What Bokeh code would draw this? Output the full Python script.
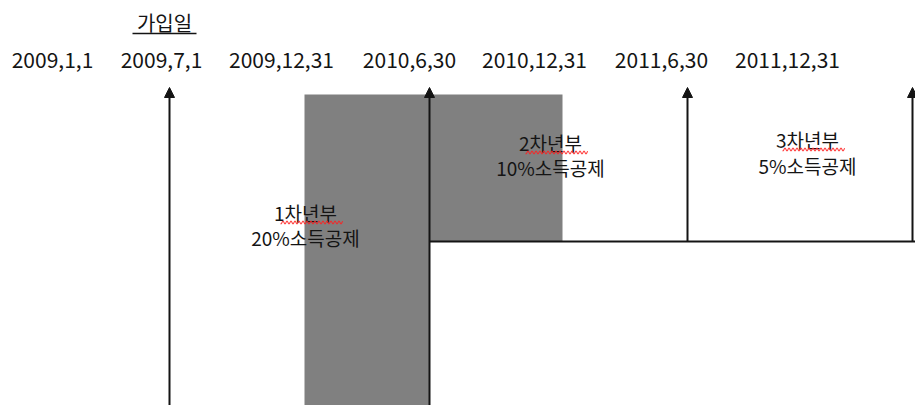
import numpy as np
from bokeh.plotting import figure
from bokeh.models import Range1d, ColumnDataSource, Arrow, NormalHead
from bokeh.core.properties import value
from bokeh.embed import file_html
from bokeh.resources import INLINE

# ---------------- data ----------------
dates = ["2009,1,1", "2009,7,1", "2009,12,31", "2010,6,30",
         "2010,12,31", "2011,6,30", "2011,12,31"]
join_label = "가입일"
join_index = 1
year_labels = ["1차년부", "2차년부", "3차년부"]
deduction_rates = [20, 10, 5]
# timeline marks (indices into half-year slots)
arrow_slots = [1, 3, 5, 6]
box_slots = [(2, 3), (3, 4)]          # shaded periods
# ---------------- layout (page pixels) ----------------
LABEL_X = [52, 161, 281, 409, 534, 661, 787]
SLOT_X = {1: 169, 2: 304, 3: 429, 4: 562, 5: 687, 6: 912}
LABEL_Y = 59
TOP_Y = 87
BOX_TOP = 94
MID_Y = 241
BOTTOM = 420
ARROW_BOTTOM = {1: BOTTOM, 3: BOTTOM, 5: MID_Y, 6: MID_Y}
BOX_BOTTOM = [BOTTOM, MID_Y]
YEAR_POS = [(305, 212, 237), (550, 142, 167), (807, 139, 165)]

W, H = 915, 405
p = figure(width=W, height=H, output_backend="svg", toolbar_location=None,
           x_range=Range1d(0, W), y_range=Range1d(H, 0),
           min_border=0, outline_line_color=None)
p.axis.visible = False
p.grid.visible = False
p.background_fill_color = "white"

FONT = value("Noto Sans CJK KR")
INK = "#141414"

# shaded boxes
bl = [SLOT_X[a] for a, b in box_slots]
br = [SLOT_X[b] for a, b in box_slots]
p.quad(left=bl, right=br, top=[BOX_TOP] * len(box_slots), bottom=BOX_BOTTOM,
       fill_color="#808080", line_color=None)

# horizontal line
p.segment(x0=[SLOT_X[3]], y0=[MID_Y], x1=[W + 5], y1=[MID_Y],
          line_color=INK, line_width=2)

# arrows
asrc = ColumnDataSource(dict(
    xs=[SLOT_X[s] for s in arrow_slots],
    ys=[ARROW_BOTTOM[s] for s in arrow_slots],
    xe=[SLOT_X[s] for s in arrow_slots],
    ye=[TOP_Y] * len(arrow_slots)))
p.add_layout(Arrow(source=asrc, x_start="xs", y_start="ys", x_end="xe", y_end="ye",
                   line_color=INK, line_width=2,
                   end=NormalHead(size=10, fill_color=INK, line_color=INK, line_width=1)))

# date labels
p.text(x=LABEL_X, y=[LABEL_Y] * len(dates), text=dates, text_font=FONT,
       text_font_size="21px", text_align="center", text_baseline="middle",
       text_color=INK)

# join date label with underline
jx = LABEL_X[join_index] + 3
p.text(x=[jx], y=[22], text=[join_label], text_font=FONT, text_font_size="20px",
       text_align="center", text_baseline="middle", text_color=INK)
p.segment(x0=[jx - 32], y0=[33], x1=[jx + 32], y1=[33], line_color=INK, line_width=1.5)

# period texts
for lbl, rate, (cx, y1, y2) in zip(year_labels, deduction_rates, YEAR_POS):
    p.text(x=[cx], y=[y1], text=[lbl], text_font=FONT, text_font_size="19px",
           text_align="center", text_baseline="middle", text_color=INK)
    p.text(x=[cx], y=[y2], text=[f"{rate}%소득공제"], text_font=FONT,
           text_font_size="19px", text_align="center", text_baseline="middle",
           text_color=INK)
    # spell-check squiggle under the hangul part
    x0, x1 = cx - 25, cx + 38
    wx = np.arange(x0, x1, 1.0)
    wy = y1 + 10 + 1.3 * np.where(np.arange(len(wx)) % 4 < 2, 1, -1)
    p.line(wx, wy, line_color="#ff2020", line_width=1)

open("out.html", "w").write(file_html(p, INLINE))
